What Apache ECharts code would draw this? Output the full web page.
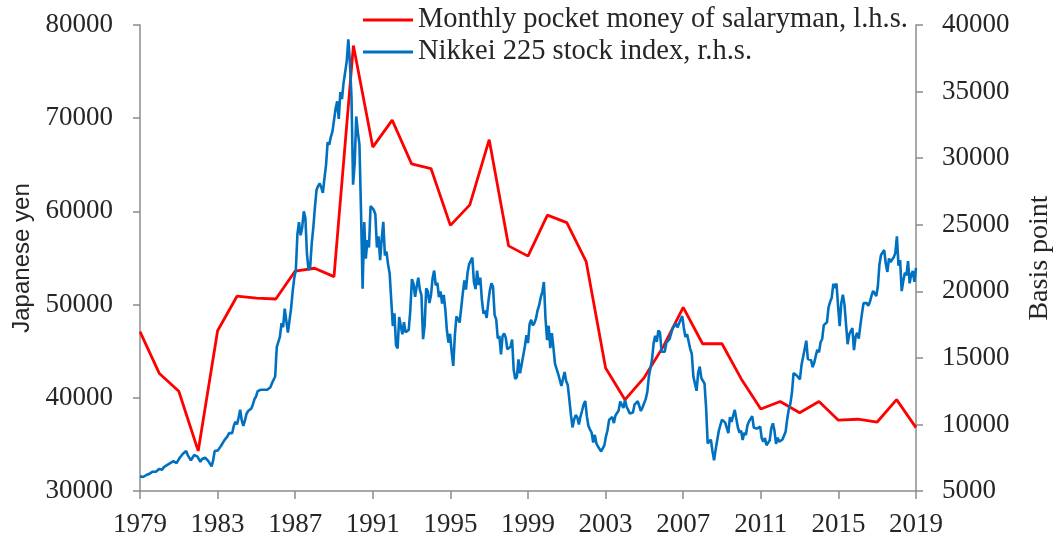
<!DOCTYPE html>
<html>
<head>
<meta charset="utf-8">
<script src="https://cdn.jsdelivr.net/npm/echarts@6/dist/echarts.min.js"></script>
<style>
html,body{margin:0;padding:0;background:#fff;}
#chart{width:1054px;height:539px;}
</style>
</head>
<body>
<div id="chart"></div>
<script>
// Yearly pocket money (yen), 1979..2019
const pocketYears = [1979,1980,1981,1982,1983,1984,1985,1986,1987,1988,1989,1990,1991,1992,1993,1994,1995,1996,1997,1998,1999,2000,2001,2002,2003,2004,2005,2006,2007,2008,2009,2010,2011,2012,2013,2014,2015,2016,2017,2018,2019];
const pocketMoney = [47100,42600,40700,34300,47200,50900,50700,50600,53600,53900,53000,77800,66900,69800,65100,64600,58500,60700,67700,56300,55200,59600,58800,54600,43200,39800,42200,45600,49700,45800,45800,42000,38800,39600,38400,39600,37600,37700,37400,39800,36800];

// Nikkei 225 monthly, Jan 1979 .. Sep 2019 (spread evenly over the axis)
const nikkei = [
6100,6000,6050,6150,6200,6250,6300,6350,6450,6500,6450,6570,
6650,6700,6600,6800,6900,6950,7050,7100,7050,7250,7100,7100,
7300,7500,7550,7800,7900,8000,7700,7600,7300,7500,7700,7700,
7600,7500,7200,7400,7500,7500,7400,7250,7100,6850,7300,8000,
8000,8050,8200,8400,8500,8800,8900,9100,9350,9200,9350,9900,
10200,10000,10500,11100,10300,9900,10300,10800,11000,11000,11200,11500,
11900,12100,12500,12400,12600,12700,12600,12700,12600,12700,12800,13100,
13000,13600,15800,15800,16600,17600,17300,18700,17800,16900,17800,18700,
20000,21000,21600,24300,25200,24200,24800,26000,25500,22800,21600,21800,
23600,24800,26300,27600,27900,28100,27800,27400,28500,29500,31200,31000,
31581,31985,32838,33713,34266,32948,34953,34431,35636,35549,37268,38916,
37189,34592,28000,29585,33131,31940,31036,25978,20200,25194,22455,23849,
23293,26409,26292,26111,25790,23291,24121,22336,23916,25222,22687,22984,
22023,21339,19346,17391,18348,15952,15710,18061,17399,16768,17684,16925,
17024,17098,18591,20919,20553,19591,20380,21027,20106,19703,16408,17417,
20229,19997,19112,19725,20974,21552,20449,20629,19564,19990,19076,19723,
18650,17053,16140,16807,15437,14400,16678,18117,17913,17655,18744,19868,
20813,20125,21407,22041,21956,22531,20693,20167,21556,20467,21020,19361,
18330,18557,18003,19151,20069,20605,20331,18229,17888,16459,16636,15259,
16628,16832,16527,15641,15671,15830,16379,14108,13406,13565,14884,13842,
14499,14368,15837,16702,16112,17530,17862,17437,17605,17942,18558,18934,
19540,19960,20700,17974,16332,17411,15727,16861,15747,14540,14649,13786,
13844,12884,12999,13934,13262,12969,11861,10714,9775,10367,10697,10543,
9998,10588,11025,11493,11764,10622,9878,9619,9383,8640,9216,8579,
8340,8363,7973,7831,8425,9083,9563,10344,10219,10560,10101,10677,
10784,11042,11715,11762,11236,11859,11326,11082,10824,10771,10899,11489,
11388,11740,11669,11009,11277,11584,11900,12414,13574,13607,14872,16111,
16650,16206,17060,16906,15468,15505,15457,16141,16128,16399,16274,17226,
17383,17604,17288,17400,17876,18138,17249,16569,16786,16738,15681,15308,
13592,13603,12526,13850,14339,13481,13377,13073,11260,8577,8512,8860,
7994,7300,8110,8828,9523,9958,10357,10493,10133,10035,9346,10546,
10198,10126,11090,11057,9769,9383,9537,8824,9369,9202,9937,10229,
10238,10624,9755,9850,9694,9816,9833,8955,8700,8988,8434,8455,
8803,9723,10084,9521,8543,9007,8695,8840,8870,8928,9446,10395,
11139,11559,12398,13861,13775,13677,13668,13389,14456,14328,15662,16291,
14915,14841,14828,14304,14632,15162,15621,15425,16174,16414,17460,17451,
17674,18798,19207,19520,20563,20236,20585,18890,17388,19083,19747,19034,
17518,16027,16759,16666,17235,15576,16569,16887,16450,17425,18308,19114,
19041,19119,18909,19197,19651,20033,19925,19646,20356,22012,22725,22765,
23098,22068,21454,22468,22202,22305,22554,22865,24120,21920,22351,20015,
20773,21385,21206,22259,20601,21276,21521,20704,21756
];

const xMin = 1979, xMax = 2019;
const xTicks = 4;
const leftTicks = {min:30000, max:80000, interval:10000};
const rightTicks = {min:5000, max:40000, interval:5000};

const seriesNames = ['Monthly pocket money of salaryman, l.h.s.', 'Nikkei 225 stock index, r.h.s.'];
const axisNames = ['Japanese yen', 'Basis point'];

const redData = pocketYears.map((y, i) => [y, pocketMoney[i]]);
const blueData = nikkei.map((v, i) => [xMin + (xMax - xMin) * i / (nikkei.length - 1), v]);

const serif = '"Liberation Serif", "Times New Roman", serif';
const labelColor = '#262626';
const axisColor = '#8c8c8c';

const chart = echarts.init(document.getElementById('chart'), null, {renderer: 'canvas'});
chart.setOption({
  animation: false,
  backgroundColor: '#ffffff',
  grid: {left: 140, right: 138, top: 25, bottom: 48, containLabel: false, outerBoundsMode: 'none'},
  legend: {
    orient: 'vertical',
    left: 363,
    top: 5,
    padding: 0,
    icon: 'rect',
    itemWidth: 50,
    itemHeight: 3,
    itemGap: 2,
    textStyle: {fontFamily: serif, fontSize: 28.5, color: labelColor, lineHeight: 30},
    data: seriesNames
  },
  xAxis: {
    type: 'value',
    min: xMin, max: xMax, interval: xTicks,
    axisLine: {show: true, lineStyle: {color: axisColor, width: 1.5}},
    axisTick: {show: true, length: 8, lineStyle: {color: axisColor, width: 1.5}},
    splitLine: {show: false},
    axisLabel: {fontFamily: serif, fontSize: 27, color: labelColor, margin: 20, formatter: v => String(v)}
  },
  yAxis: [
    {
      type: 'value', position: 'left',
      min: leftTicks.min, max: leftTicks.max, interval: leftTicks.interval,
      name: axisNames[0], nameLocation: 'middle', nameRotate: 90, nameGap: 104,
      nameTextStyle: {fontFamily: '"Liberation Sans", Arial, sans-serif', fontSize: 24, color: labelColor},
      axisLine: {show: true, lineStyle: {color: axisColor, width: 1.5}},
      axisTick: {show: true, length: 7, lineStyle: {color: axisColor, width: 1.5}},
      splitLine: {show: false},
      axisLabel: {fontFamily: serif, fontSize: 27, color: labelColor, margin: 27, formatter: v => String(v)}
    },
    {
      type: 'value', position: 'right',
      min: rightTicks.min, max: rightTicks.max, interval: rightTicks.interval,
      name: axisNames[1], nameLocation: 'middle', nameRotate: 90, nameGap: 110,
      nameTextStyle: {fontFamily: serif, fontSize: 28, color: labelColor},
      axisLine: {show: true, lineStyle: {color: axisColor, width: 1.5}},
      axisTick: {show: true, length: 7, lineStyle: {color: axisColor, width: 1.5}},
      splitLine: {show: false},
      axisLabel: {fontFamily: serif, fontSize: 27, color: labelColor, margin: 26, formatter: v => String(v)}
    }
  ],
  series: [
    {
      name: seriesNames[0], type: 'line', yAxisIndex: 0,
      data: redData, symbol: 'none', smooth: false,
      itemStyle: {color: '#ff0000'},
      lineStyle: {color: '#ff0000', width: 2.8}
    },
    {
      name: seriesNames[1], type: 'line', yAxisIndex: 1,
      data: blueData, symbol: 'none', smooth: false,
      itemStyle: {color: '#0070c0'},
      lineStyle: {color: '#0070c0', width: 2.6}
    }
  ]
});
</script>
</body>
</html>
